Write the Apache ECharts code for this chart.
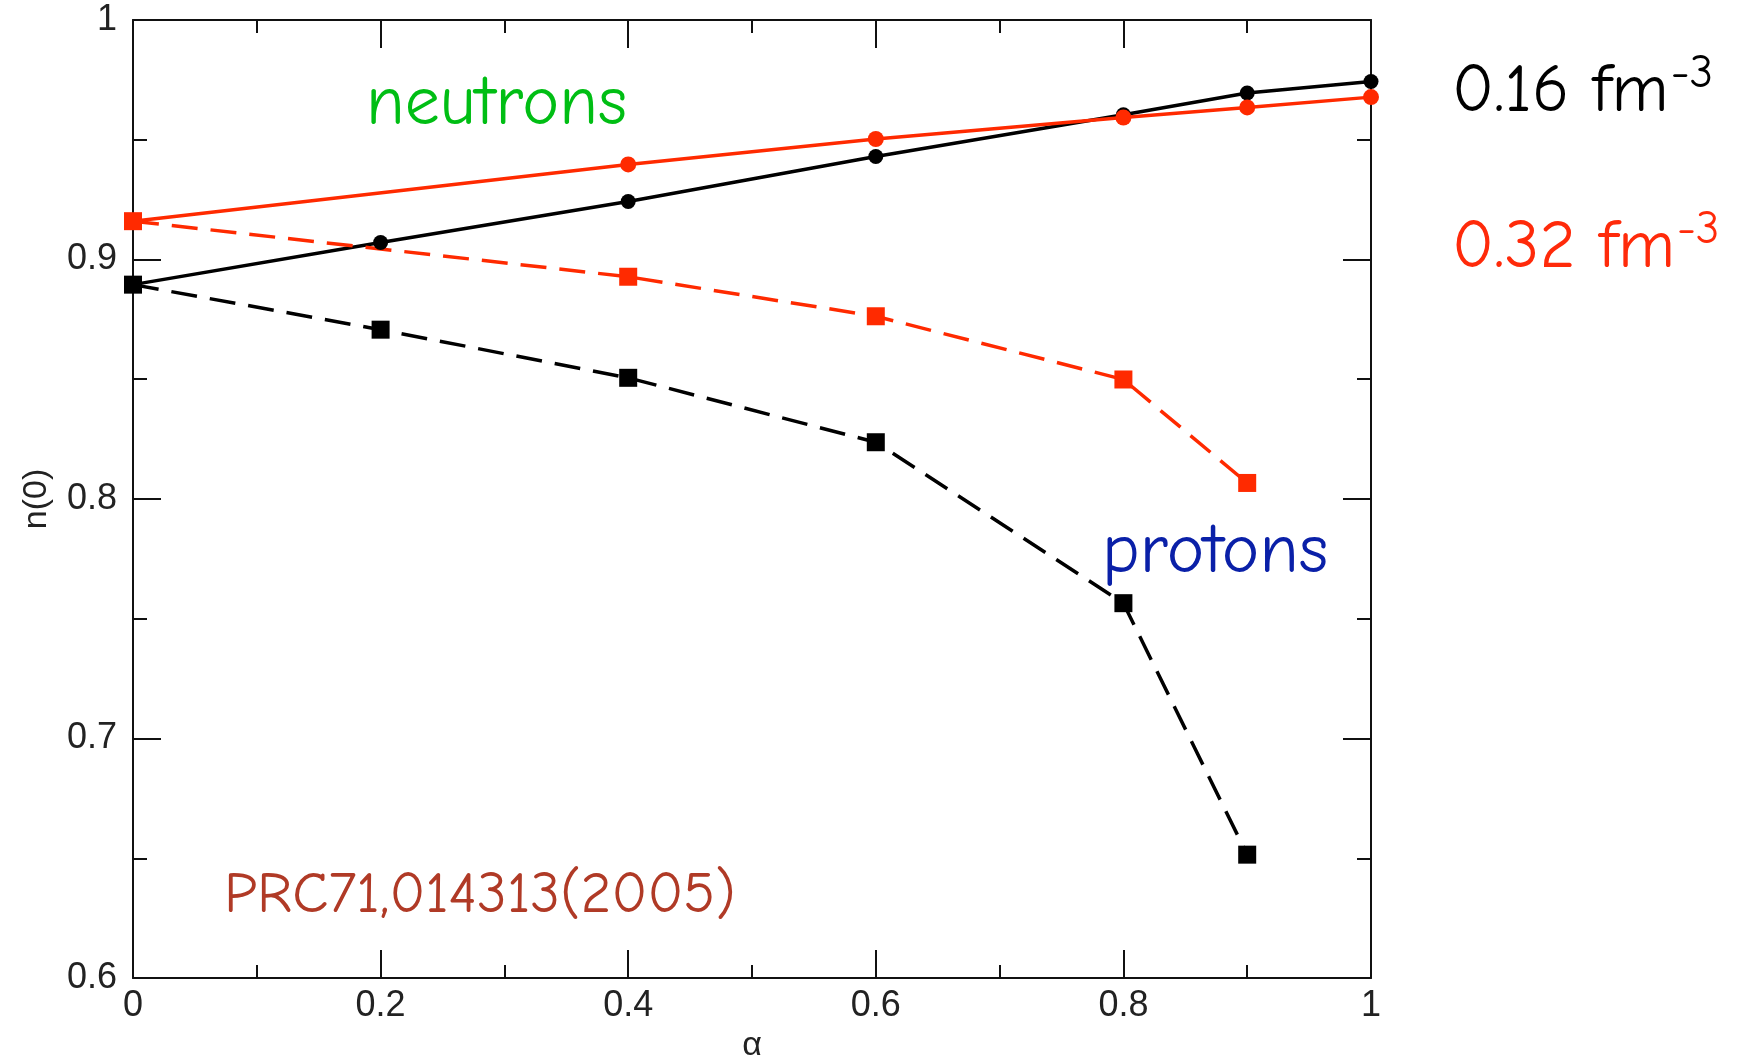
<!DOCTYPE html>
<html>
<head>
<meta charset="utf-8">
<script src="https://cdn.jsdelivr.net/npm/echarts@6/dist/echarts.min.js"></script>
<style>
html,body{margin:0;padding:0;background:#fff;}
#chart{width:1749px;height:1059px;}
</style>
</head>
<body>
<div id="chart"></div>
<script>
// ---- data ----
var alphaN016 = [0, 0.2, 0.4, 0.6, 0.8, 0.9, 1];
var neutrons016 = [0.8895, 0.9071, 0.9242, 0.9430, 0.9604, 0.9695, 0.9743];

var alphaN032 = [0, 0.4, 0.6, 0.8, 0.9, 1];
var neutrons032 = [0.916, 0.9397, 0.9503, 0.9593, 0.9635, 0.9678];

var alphaP032 = [0, 0.4, 0.6, 0.8, 0.9];
var protons032 = [0.916, 0.8928, 0.8763, 0.8499, 0.8067];

var alphaP016 = [0, 0.2, 0.4, 0.6, 0.8, 0.9];
var protons016 = [0.8895, 0.8707, 0.8506, 0.8237, 0.7565, 0.6515];

var xTickLabels = ['0', '0.2', '0.4', '0.6', '0.8', '1'];
var yTickLabels = ['0.6', '0.7', '0.8', '0.9', '1'];

function pairs(xs, ys) { return xs.map(function (x, i) { return [x, ys[i]]; }); }

var RED = '#ff2a00';
var BLACK = '#000000';
var AX = '#111';
var tickFont = 'Liberation Sans';
var annFont = "'Comic Sans MS','Comic Neue','DejaVu Sans',sans-serif";

function fmtX(v) { var i = Math.round(v / 0.2); return xTickLabels[i] !== undefined ? xTickLabels[i] : ''; }
function fmtY(v) { var i = Math.round((v - 0.6) / 0.1); return yTickLabels[i] !== undefined ? yTickLabels[i] : ''; }

function baseX(pos, showLabel) {
  return {
    type: 'value', position: pos, min: 0, max: 1, interval: 0.2,
    axisLine: { show: true, onZero: false, lineStyle: { color: AX, width: 2 } },
    axisTick: { show: true, inside: true, length: 28, lineStyle: { color: AX, width: 2 } },
    minorTick: { show: true, splitNumber: 2, length: 13, lineStyle: { color: AX, width: 2 } },
    splitLine: { show: false }, minorSplitLine: { show: false },
    axisLabel: { show: showLabel, formatter: fmtX, color: '#222', fontFamily: tickFont, fontSize: 36, margin: 10 }
  };
}
function baseY(pos, showLabel) {
  return {
    type: 'value', position: pos, min: 0.6, max: 1, interval: 0.1,
    axisLine: { show: true, onZero: false, lineStyle: { color: AX, width: 2 } },
    axisTick: { show: true, inside: true, length: 28, lineStyle: { color: AX, width: 2 } },
    minorTick: { show: true, splitNumber: 2, length: 14, lineStyle: { color: AX, width: 2 } },
    splitLine: { show: false }, minorSplitLine: { show: false },
    axisLabel: { show: showLabel, formatter: fmtY, color: '#222', fontFamily: tickFont, fontSize: 36, margin: 16 }
  };
}

var xb = baseX('bottom', true);
xb.name = 'α'; xb.nameLocation = 'middle'; xb.nameGap = 46;
xb.nameTextStyle = { color: '#222', fontFamily: tickFont, fontSize: 34 };
var yl = baseY('left', true);
yl.name = 'n(0)'; yl.nameLocation = 'middle'; yl.nameGap = 79; yl.nameRotate = 90;
yl.nameTextStyle = { color: '#222', fontFamily: tickFont, fontSize: 34 };

function lineSeries(name, data, color, dashed, symbol, size) {
  return {
    name: name, type: 'line', xAxisIndex: 0, yAxisIndex: 0, data: data,
    symbol: symbol, symbolSize: size, showSymbol: true, animation: false,
    lineStyle: { color: color, width: 3.5, type: dashed ? [26, 13] : 'solid' },
    itemStyle: { color: color, borderWidth: 0 },
    emphasis: { disabled: true }
  };
}

function supText(base, sup, color, size) {
  return {
    text: '{m|' + base + '}{s|' + sup + '}',
    fill: color,
    align: 'left', verticalAlign: 'bottom',
    rich: {
      m: { fontFamily: annFont, fontSize: size, fill: color, lineHeight: size * 1.1, verticalAlign: 'bottom' },
      s: { fontFamily: annFont, fontSize: Math.round(size * 0.68), fill: color, lineHeight: size * 1.1, verticalAlign: 'top', padding: [0, 0, 0, 2] }
    }
  };
}

var option = {
  backgroundColor: '#ffffff',
  animation: false,
  grid: { left: 133, right: 378, top: 20, bottom: 81, containLabel: false, outerBoundsMode: 'none' },
  xAxis: [xb, baseX('top', false)],
  yAxis: [yl, baseY('right', false)],
  series: [
    lineSeries('neutrons 0.16', pairs(alphaN016, neutrons016), BLACK, false, 'circle', 15),
    lineSeries('neutrons 0.32', pairs(alphaN032, neutrons032), RED, false, 'circle', 16),
    lineSeries('protons 0.32', pairs(alphaP032, protons032), RED, true, 'rect', 18),
    lineSeries('protons 0.16', pairs(alphaP016, protons016), BLACK, true, 'rect', 18)
  ],
  graphic: [
    { type: 'text', x: 366, y: 104, style: { text: 'neutrons', fill: '#00be14', font: '70px ' + annFont, align: 'left', verticalAlign: 'middle' } },
    { type: 'text', x: 1102, y: 552, style: { text: 'protons', fill: '#0a20a8', font: '71px ' + annFont, align: 'left', verticalAlign: 'middle' } },
    { type: 'text', x: 1452, y: 126, style: supText('0.16 fm', '-3', '#000000', 69) },
    { type: 'text', x: 1452, y: 282, style: supText('0.32 fm', '-3', '#ff2a0a', 69) },
    { type: 'text', x: 224, y: 895, style: { text: 'PRC71,014313(2005)', fill: '#b03a26', font: '59px ' + annFont, align: 'left', verticalAlign: 'middle' } }
  ]
};

var chart = echarts.init(document.getElementById('chart'), null, { renderer: 'canvas' });
chart.setOption(option);
</script>
</body>
</html>
